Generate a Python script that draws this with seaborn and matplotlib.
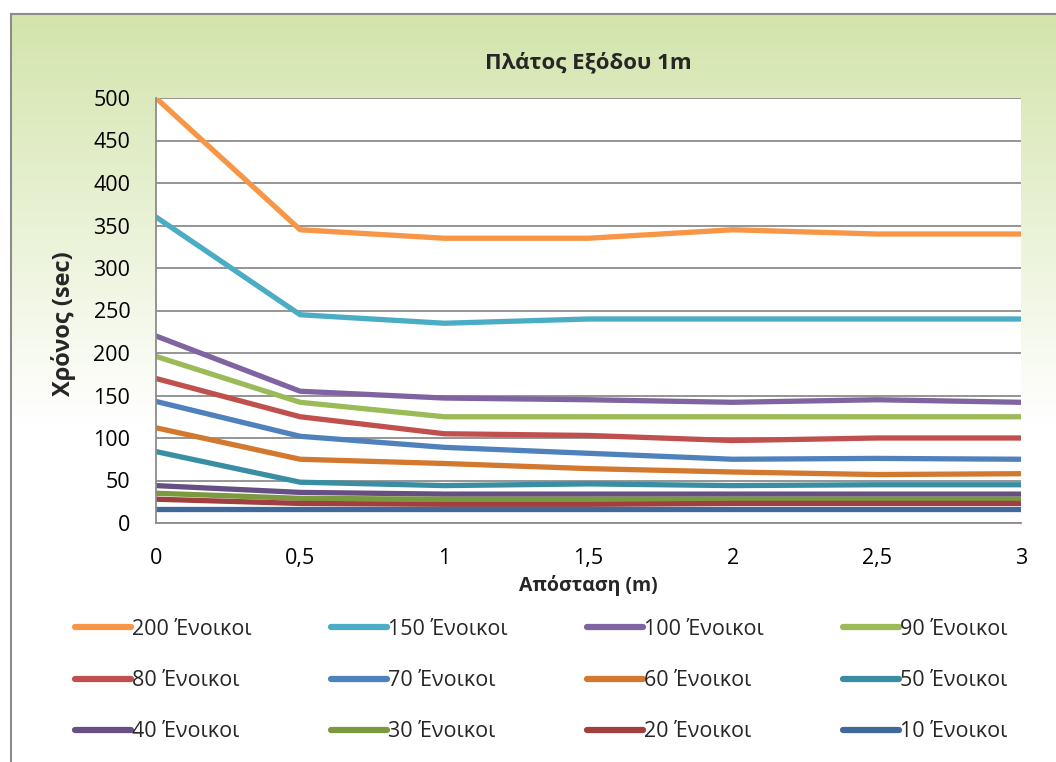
import numpy as np
import pandas as pd
import matplotlib
matplotlib.use("Agg")
import matplotlib.pyplot as plt
from matplotlib.lines import Line2D
from matplotlib.patches import Rectangle
import seaborn as sns

# Distance from the exit (m)
distance = [0, 0.5, 1, 1.5, 2, 2.5, 3]

# Evacuation time (sec) per number of occupants
series_labels = ["200 Ένοικοι", "150 Ένοικοι", "100 Ένοικοι", "90 Ένοικοι",
                 "80 Ένοικοι", "70 Ένοικοι", "60 Ένοικοι", "50 Ένοικοι",
                 "40 Ένοικοι", "30 Ένοικοι", "20 Ένοικοι", "10 Ένοικοι"]
t200 = [500, 345, 335, 335, 345, 340, 340]
t150 = [360, 245, 235, 240, 240, 240, 240]
t100 = [220, 155, 147, 145, 142, 145, 142]
t90 = [196, 142, 125, 125, 125, 125, 125]
t80 = [170, 125, 105, 103, 97, 100, 100]
t70 = [143, 102, 89, 82, 75, 76, 75]
t60 = [112, 75, 70, 64, 60, 57, 58]
t50 = [84, 48, 44, 46, 44, 45, 45]
t40 = [44, 36, 34, 34, 34, 34, 34]
t30 = [35, 29, 28, 28, 28, 28, 28]
t20 = [28, 23, 22, 22, 23, 23, 23]
t10 = [16, 16, 16, 16, 16, 16, 16]
series_values = [t200, t150, t100, t90, t80, t70, t60, t50, t40, t30, t20, t10]

colors = ["#F79646", "#4BACC6", "#8064A2", "#9BBB59", "#C0504D", "#4F81BD",
          "#D2782F", "#3A8EA3", "#664F82", "#7B9A40", "#A13F3E", "#3F689B"]

y_ticks = list(range(0, 501, 50))
x_ticks = [0, 0.5, 1, 1.5, 2, 2.5, 3]
x_ticklabels = ["0", "0,5", "1", "1,5", "2", "2,5", "3"]

records = []
for lab, vals in zip(series_labels, series_values):
    for d, v in zip(distance, vals):
        records.append({"distance": d, "time": v, "series": lab})
df = pd.DataFrame(records)
palette = dict(zip(series_labels, colors))

sns.set_theme(style="white")
plt.rcParams["font.family"] = ["Open Sans", "Noto Sans", "DejaVu Sans"]

fig = plt.figure(figsize=(10.56, 7.62), dpi=100)

# Chart-area background: green-to-white vertical gradient with a grey frame
bg = fig.add_axes([0, 0, 1, 1], zorder=0)
bg.set_axis_off()
H = 762
rows = np.arange(H)
t = np.clip((rows - 13) / 410.0, 0, 1)
top = np.array([211, 228, 171]) / 255.0
grad = top[None, :] + (1 - top[None, :]) * t[:, None]
grad[:13] = 1.0
img = np.repeat(grad[:, None, :], 4, axis=1)
bg.imshow(img, aspect="auto", extent=[0, 1, 0, 1], origin="upper",
          interpolation="nearest")
bg.set_xlim(0, 1)
bg.set_ylim(0, 1)
# white strip left of the frame
bg.add_patch(Rectangle((0, 0), 10.5 / 1056, 1, facecolor="white",
                       edgecolor="none", transform=bg.transAxes))
bg.add_patch(Rectangle((10.5 / 1056, -0.05), 1.2, 1 - 13.5 / 762 + 0.05,
                       fill=False, edgecolor="#8c8c8c", linewidth=1.5,
                       transform=bg.transAxes))

ax = fig.add_axes([156 / 1056, 1 - 523 / 762, (1021 - 156) / 1056,
                   (523 - 98) / 762], zorder=1)
ax.set_facecolor("white")

sns.lineplot(data=df, x="distance", y="time", hue="series",
             hue_order=series_labels, palette=palette, linewidth=3.8,
             legend=False, ax=ax, sort=False)
for ln in ax.lines:
    ln.set_solid_joinstyle("round")
    ln.set_solid_capstyle("round")

ax.set_xlim(0, 3)
ax.set_ylim(0, 500)
ax.set_yticks(y_ticks)
ax.set_xticks(x_ticks)
ax.set_xticklabels(x_ticklabels)
ax.grid(axis="y", color="#8c8c8c", linewidth=1.3)
ax.set_axisbelow(True)
for side in ["top", "right"]:
    ax.spines[side].set_visible(False)
for side in ["left", "bottom"]:
    ax.spines[side].set_color("#8c8c8c")
    ax.spines[side].set_linewidth(1.3)
ax.tick_params(axis="both", which="major", direction="out", length=8,
               width=1.3, color="#8c8c8c", labelsize=15.5, labelcolor="black")
ax.tick_params(axis="x", pad=10)
ax.tick_params(axis="y", pad=10.5)

ax.set_xlabel("Απόσταση (m)", fontsize=14, fontweight="bold", labelpad=4)
ax.set_ylabel("Χρόνος (sec)", fontsize=17, fontweight="bold")
ax.yaxis.set_label_coords(-0.093, 0.47)
ax.set_title("Πλάτος Εξόδου 1m", fontsize=16, fontweight="bold", pad=21)

# Legend: 3 rows x 4 columns, filled row by row
handles = [Line2D([0], [0], color=c, linewidth=4.5, solid_capstyle="round")
           for c in colors]
order = []
for col in range(4):
    for row in range(3):
        order.append(row * 4 + col)
leg = fig.legend([handles[i] for i in order], [series_labels[i] for i in order],
                 ncol=4, loc="upper left",
                 bbox_to_anchor=(66 / 1056, 1 - 618 / 762, 950 / 1056, 0.01),
                 mode="expand", frameon=False, fontsize=15.5,
                 handlelength=2.6, handletextpad=0.05, labelspacing=1.4,
                 borderaxespad=0)

fig.savefig("out.png", dpi=100)
